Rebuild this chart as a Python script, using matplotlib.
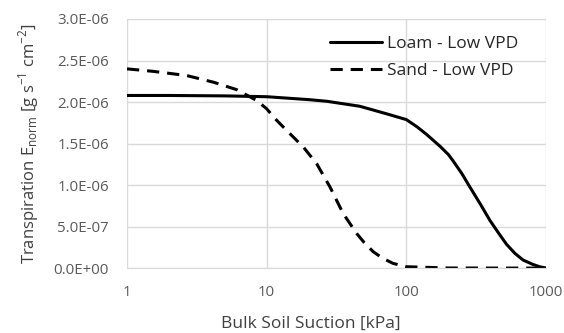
import numpy as np
import matplotlib.pyplot as plt
from matplotlib.ticker import FuncFormatter

# suction [kPa] and normalised transpiration [g s-1 cm-2]
loam_psi = [1, 2, 5, 10, 20, 27, 46.5, 72, 100, 120, 140, 174, 200, 217, 250, 285, 340, 396,
            460, 522, 600, 687, 800, 900, 1000]
loam_E = [2.08e-6, 2.08e-6, 2.075e-6, 2.065e-6, 2.03e-6, 2.01e-6, 1.95e-6, 1.86e-6, 1.79e-6,
          1.70e-6, 1.61e-6, 1.47e-6, 1.37e-6, 1.29e-6, 1.14e-6, 0.98e-6, 0.77e-6, 0.58e-6,
          0.42e-6, 0.29e-6, 0.18e-6, 0.10e-6, 0.05e-6, 0.02e-6, 0.005e-6]

sand_psi = [1, 1.54, 2.67, 4.15, 6.1, 8.48, 10, 11.5, 13.9, 18.3, 22.8, 28.4, 35.3, 44.1, 50,
            58, 68, 80.5, 100, 200, 500, 1000]
sand_E = [2.40e-6, 2.37e-6, 2.32e-6, 2.24e-6, 2.15e-6, 2.02e-6, 1.92e-6, 1.80e-6, 1.66e-6,
          1.46e-6, 1.26e-6, 0.98e-6, 0.66e-6, 0.42e-6, 0.31e-6, 0.20e-6, 0.12e-6, 0.06e-6,
          0.02e-6, 0.005e-6, 0.004e-6, 0.004e-6]

plt.rcParams['font.family'] = ['Open Sans', 'DejaVu Sans']
plt.rcParams['mathtext.fontset'] = 'custom'
plt.rcParams['mathtext.rm'] = 'Open Sans'
grey = '#595959'

fig = plt.figure(figsize=(5.64, 3.33), dpi=100)
ax = fig.add_axes([0.2252, 0.194, 0.7428, 0.749])

ax.plot(loam_psi, loam_E, color='black', lw=2.2, label='Loam - Low VPD',
        solid_joinstyle='round', solid_capstyle='round')
ax.plot(sand_psi, sand_E, color='black', lw=2.2, label='Sand - Low VPD',
        dashes=(4, 2.6), dash_capstyle='butt')

ax.set_xscale('log')
ax.set_xlim(1, 1000)
ax.set_ylim(0, 3.0e-6)
ax.set_xticks([1, 10, 100, 1000])
ax.xaxis.set_major_formatter(FuncFormatter(lambda v, p: f'{v:g}'))
ax.xaxis.set_minor_locator(plt.NullLocator())
ax.set_yticks(np.arange(0, 3.01e-6, 0.5e-6))
ax.yaxis.set_major_formatter(FuncFormatter(lambda v, p: f'{v:.1E}'))

ax.grid(True, color='#d9d9d9', lw=1.0)
ax.set_axisbelow(True)
for s in ['top', 'right', 'left']:
    ax.spines[s].set_visible(False)
ax.spines['bottom'].set_color('#d9d9d9')
ax.tick_params(axis='both', length=0, labelsize=10.8, colors=grey)
ax.tick_params(axis='x', pad=12)
ax.tick_params(axis='y', pad=13)

ax.set_xlabel('Bulk Soil Suction [kPa]', fontsize=12.5, color='#404040', labelpad=9)
ax.xaxis.set_label_coords((311 - 127) / 420, -0.19)
ax.set_ylabel(r'Transpiration E$_{\mathregular{norm}}$ [g s$^{\mathregular{-1}}$ cm$^{\mathregular{-2}}$]',
              fontsize=12, color='#404040', labelpad=9)

leg = ax.legend(loc='upper left', bbox_to_anchor=(330 / 564, 1 - 36 / 333),
                bbox_transform=fig.transFigure, frameon=False, fontsize=12.5,
                borderpad=0, borderaxespad=0, handlelength=3.0, handletextpad=0.3,
                labelspacing=0.62, labelcolor='#262626')

fig.savefig('out.png', dpi=100)
